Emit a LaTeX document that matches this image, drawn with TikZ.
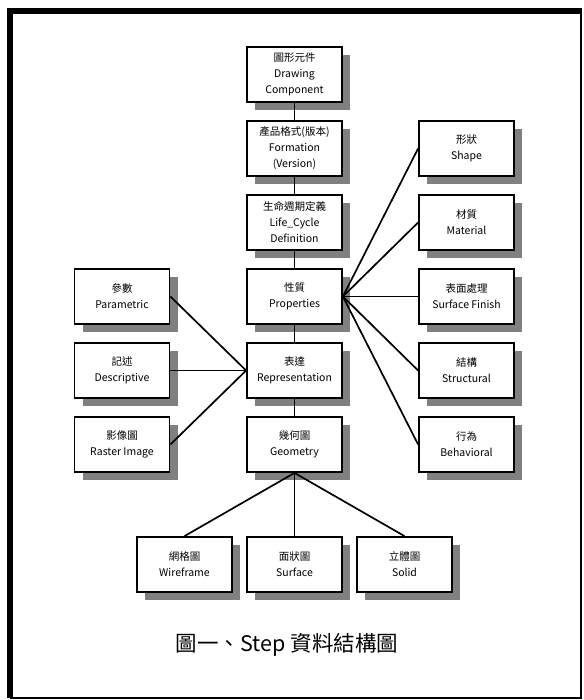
\documentclass[tikz,border=0pt]{standalone}
\usepackage{fontspec}
\setmainfont{Noto Sans CJK TC}
\usetikzlibrary{shadows}
\tikzset{
  comp/.style={draw,line width=1.8pt,fill=white,minimum width=95pt,minimum height=55pt,
    inner sep=1pt,align=center,font=\fontsize{10.5}{16}\selectfont,
    drop shadow={shadow xshift=8pt,shadow yshift=-8pt,fill=black!50,opacity=1}},
  link/.style={line width=1.7pt}
}
\begin{document}
\begin{tikzpicture}[x=1pt,y=-1pt]
\useasboundingbox (0,0) rectangle (583,700);
% frame
\draw [line width=1.5pt] (10,698) -- (581,698) -- (581,11);
\draw [line width=6pt] (582,11) -- (10,11) -- (10,698);
%
% centre column
\node [comp] (draw) at (294.5,74.5) {圖形元件\\Drawing\\Component};
\node [comp] (form) at (294.5,148.5) {產品格式(版本)\\Formation\\(Version)};
\node [comp] (life) at (294.5,222.5) {生命週期定義\\Life\_Cycle\\Definition};
\node [comp] (prop) at (294.5,296.5) {性質\\Properties};
\node [comp] (repr) at (294.5,370.5) {表達\\Representation};
\node [comp] (geom) at (294.5,444.5) {幾何圖\\Geometry};
%
% left column
\node [comp] (para) at (122,296.5) {參數\\Parametric};
\node [comp] (desc) at (122,370.5) {記述\\Descriptive};
\node [comp] (rast) at (122,444.5) {影像圖\\Raster Image};
%
% right column
\node [comp] (shape) at (466.5,148.5) {形狀\\Shape};
\node [comp] (mat) at (466.5,222.5) {材質\\Material};
\node [comp] (surf) at (466.5,296.5) {表面處理\\Surface Finish};
\node [comp] (struc) at (466.5,370.5) {結構\\Structural};
\node [comp] (behav) at (466.5,444.5) {行為\\Behavioral};
%
% bottom row
\node [comp] (wire) at (184.5,564.5) {網格圖\\Wireframe};
\node [comp] (face) at (294.5,564.5) {面狀圖\\Surface};
\node [comp] (solid) at (404.5,564.5) {立體圖\\Solid};
%
\node [font=\fontsize{21.5}{26}\selectfont] (cap) at (287,645) {圖一、Step 資料結構圖};
%
\draw [link] (draw) -- (form);
\draw [link] (form) -- (life);
\draw [link] (life) -- (prop);
\draw [link] (prop) -- (repr);
\draw [link] (repr) -- (geom);
%
\draw [link] (prop.east) -- (shape.west);
\draw [link] (prop.east) -- (mat.west);
\draw [link] (prop.east) -- (surf.west);
\draw [link] (prop.east) -- (struc.west);
\draw [link] (prop.east) -- (behav.west);
%
\draw [link] (repr.west) -- (para.east);
\draw [link] (repr.west) -- (desc.east);
\draw [link] (repr.west) -- (rast.east);
%
\draw [link] (geom.south) -- (wire.north);
\draw [link] (geom.south) -- (face.north);
\draw [link] (geom.south) -- (solid.north);
\end{tikzpicture}
\end{document}
